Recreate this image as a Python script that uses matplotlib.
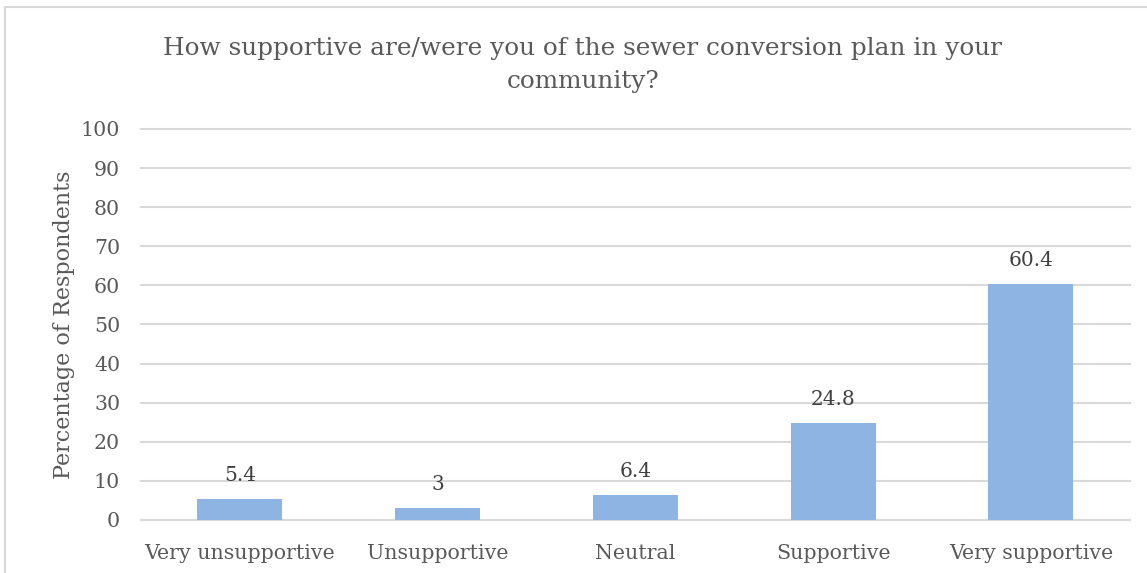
import matplotlib
matplotlib.use("Agg")
import matplotlib.pyplot as plt
from matplotlib.patches import Rectangle

categories = ["Very unsupportive", "Unsupportive", "Neutral", "Supportive", "Very supportive"]
percentages = [5.4, 3, 6.4, 24.8, 60.4]
value_labels = ["5.4", "3", "6.4", "24.8", "60.4"]
y_ticks = [0, 10, 20, 30, 40, 50, 60, 70, 80, 90, 100]

plt.rcParams["font.family"] = ["DejaVu Serif"]

fig = plt.figure(figsize=(11.47, 5.73), dpi=100)
fig.patch.set_facecolor("white")

# light chart-area frame
fig.patches.append(Rectangle((0.0045, -0.02), 1.2, 1.008, transform=fig.transFigure,
                             fill=False, edgecolor="#d9d9d9", linewidth=1.5))

ax = fig.add_axes([0.1229, 0.0925, 0.8621, 0.6824])
x = list(range(len(categories)))
ax.bar(x, percentages, width=0.43, color="#8eb4e3", zorder=3)

for xi, v, lab in zip(x, percentages, value_labels):
    ax.text(xi, v + 3.6, lab, ha="center", va="bottom", fontsize=14.5, color="#404040")

ax.set_xlim(-0.5, len(categories) - 0.5)
ax.set_ylim(0, 100)
ax.set_yticks(y_ticks)
ax.set_xticks(x)
ax.set_xticklabels(categories)
ax.yaxis.grid(True, color="#d9d9d9", linewidth=1.5, zorder=0)
for gl in ax.get_ygridlines():
    gl.set_clip_on(False)
ax.set_axisbelow(True)
for s in ["top", "right", "left"]:
    ax.spines[s].set_visible(False)
ax.spines["bottom"].set_color("#d9d9d9")
ax.spines["bottom"].set_linewidth(1.5)
ax.tick_params(axis="both", length=0, labelsize=14.8, labelcolor="#595959")
ax.tick_params(axis="y", pad=15)
ax.tick_params(axis="x", pad=17)

ax.set_ylabel("Percentage of Respondents", fontsize=16, color="#595959", labelpad=4)

fig.text(0.508, 0.887, "How supportive are/were you of the sewer conversion plan in your\ncommunity?",
         ha="center", va="center", fontsize=17.8, color="#595959", linespacing=1.55)

fig.savefig("out.png", dpi=100)
